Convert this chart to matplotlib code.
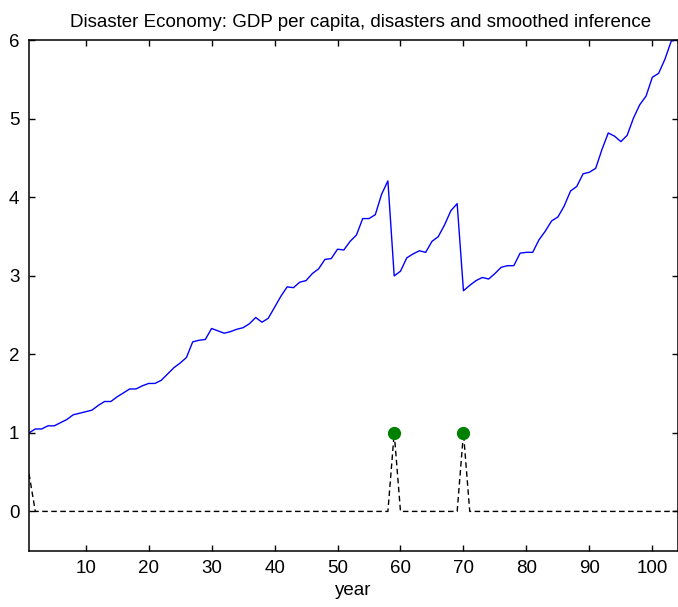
import numpy as np
import matplotlib
matplotlib.use("Agg")
import matplotlib.pyplot as plt

plt.rcParams['font.family'] = ['Liberation Sans', 'DejaVu Sans']

# GDP per capita path, one value per year
gdp = [1.00, 1.05, 1.05, 1.09, 1.09, 1.13, 1.17, 1.23, 1.25, 1.27,
       1.29, 1.35, 1.40, 1.40, 1.46, 1.51, 1.56, 1.56, 1.60, 1.63,
       1.63, 1.67, 1.75, 1.83, 1.89, 1.96, 2.16, 2.18, 2.19, 2.33,
       2.30, 2.27, 2.29, 2.32, 2.34, 2.39, 2.47, 2.41, 2.46, 2.60,
       2.74, 2.86, 2.85, 2.92, 2.94, 3.03, 3.09, 3.21, 3.22, 3.34,
       3.33, 3.44, 3.52, 3.73, 3.73, 3.78, 4.04, 4.21, 3.00, 3.06,
       3.23, 3.28, 3.32, 3.30, 3.44, 3.50, 3.65, 3.83, 3.92, 2.81,
       2.88, 2.94, 2.98, 2.96, 3.03, 3.11, 3.13, 3.13, 3.29, 3.30,
       3.30, 3.46, 3.57, 3.70, 3.75, 3.89, 4.08, 4.14, 4.30, 4.32,
       4.37, 4.61, 4.82, 4.78, 4.71, 4.79, 5.01, 5.18, 5.29, 5.53,
       5.58, 5.76, 5.99, 6.01]
years = np.arange(1, len(gdp) + 1)

# smoothed probability of a disaster in each year
prob = np.zeros(len(gdp))
prob[0] = 0.48
prob[58] = 1.0
prob[69] = 1.0

# years in which a disaster actually hit
disaster_years = [59, 70]
disaster_vals = [1, 1]

fig = plt.figure(figsize=(6.78, 6.07), dpi=100)
ax = fig.add_axes([0.0428, 0.0928, 0.9565, 0.842])

ax.plot(years, gdp, color=(0, 0, 1), lw=1.0)
ax.plot(years, prob, color='black', lw=1.0, linestyle=(0, (4, 2.5)))
ax.plot(disaster_years, disaster_vals, 'o', color=(0, 0.5, 0),
        markersize=8.5, markeredgecolor=(0, 0.5, 0))

ax.set_xlim(1, len(gdp))
ax.set_ylim(-0.5, max(gdp))
ax.set_xticks(np.arange(10, 101, 10))
ax.set_yticks(np.arange(0, 7, 1))
ax.tick_params(direction='in', length=4, width=1, top=True, right=True,
               labelsize=13.5)
ax.tick_params(axis='x', pad=7)
ax.tick_params(axis='y', pad=7)
for s in ax.spines.values():
    s.set_linewidth(1.1)

ax.set_xlabel('year', fontsize=13.5, labelpad=3)
ttl = ax.set_title('Disaster Economy: GDP per capita, disasters and smoothed inference',
                   fontsize=13.5, pad=9)
ttl.set_x(0.512)

fig.savefig('out.png', dpi=100)
